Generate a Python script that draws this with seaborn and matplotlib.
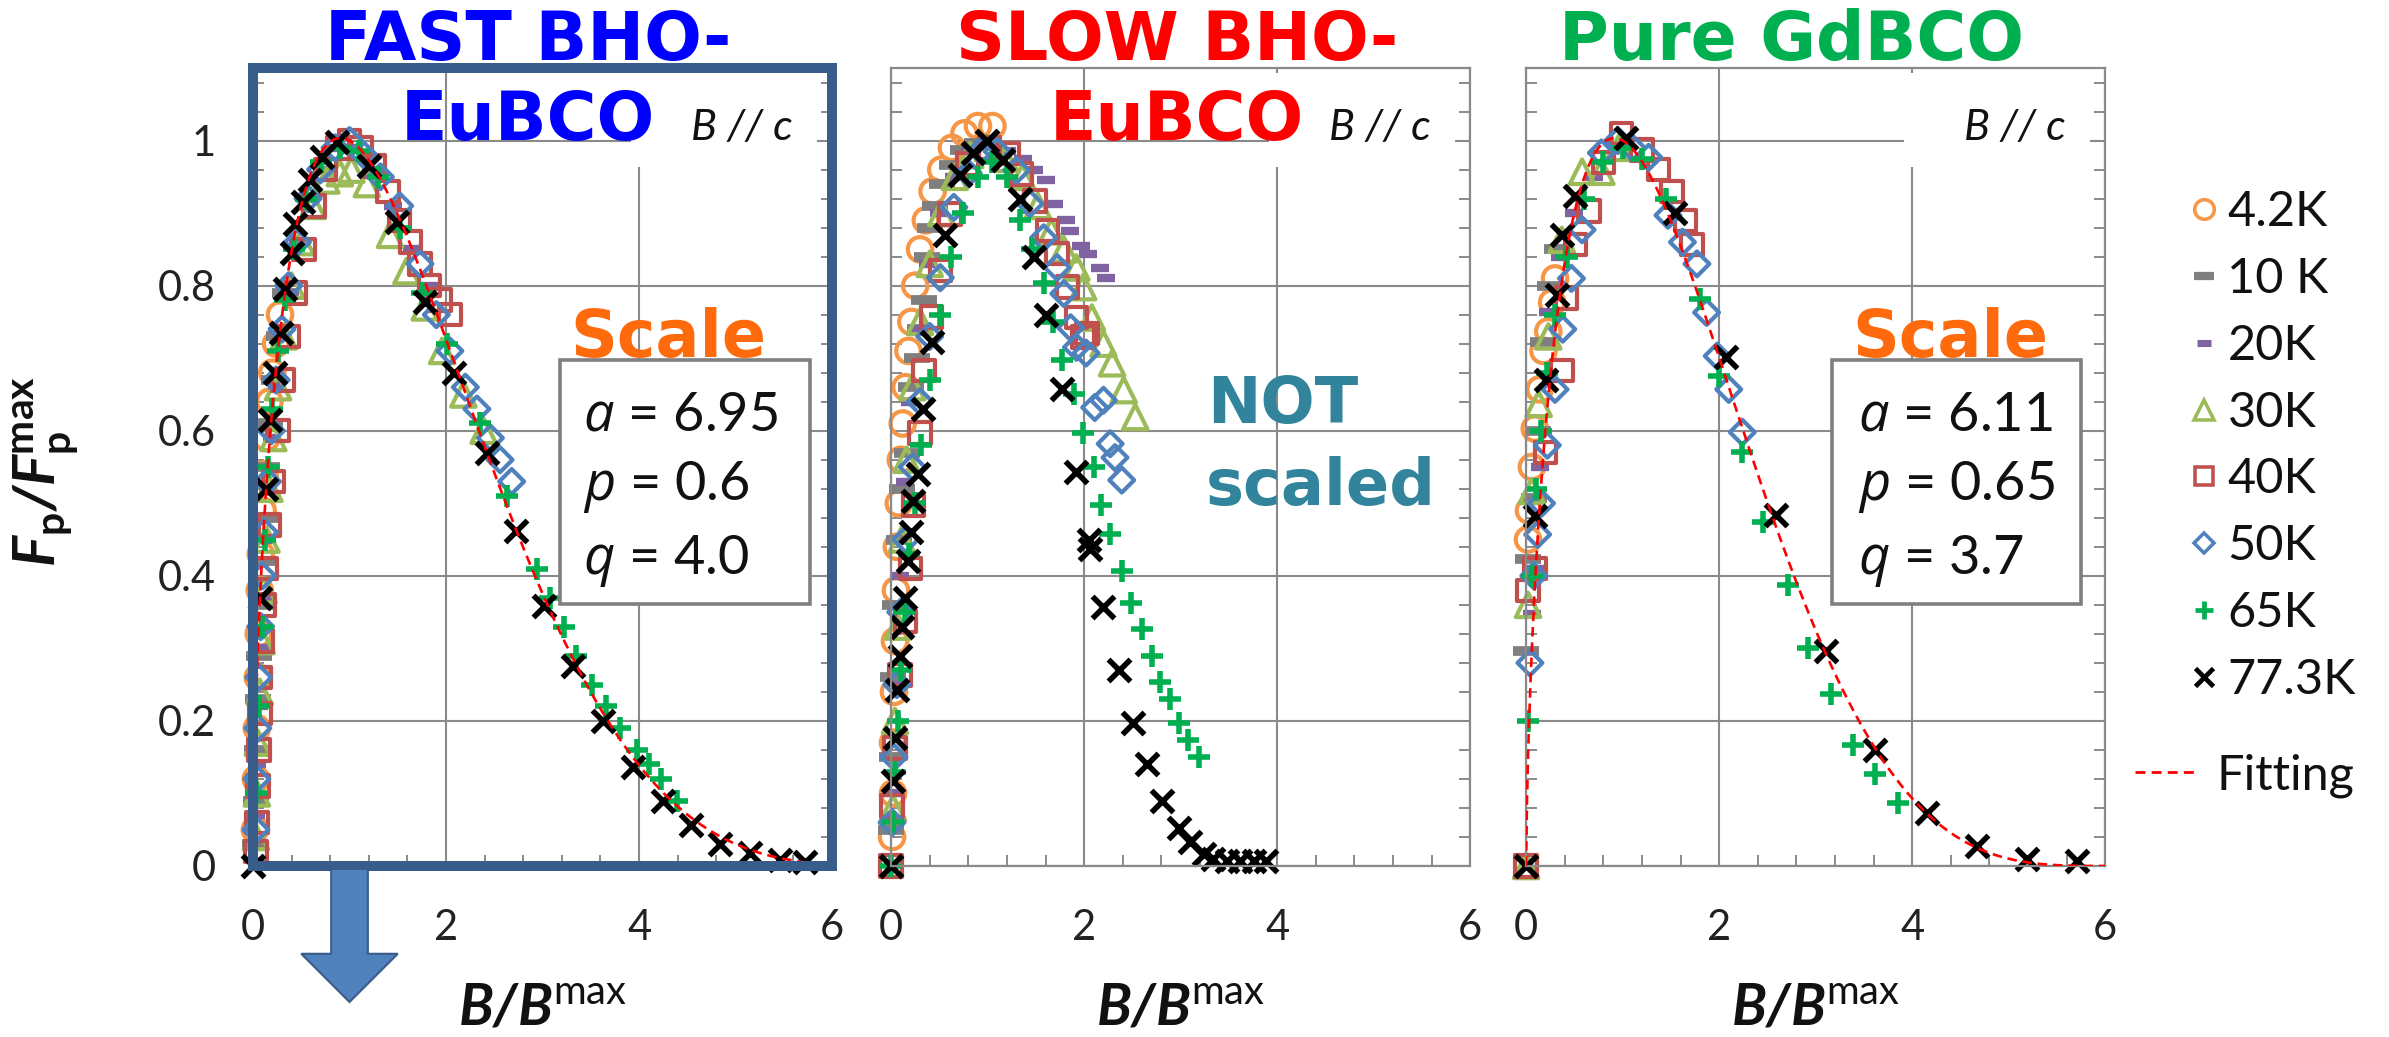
import numpy as np
import pandas as pd
import matplotlib
matplotlib.use("Agg")
import matplotlib.pyplot as plt
import seaborn as sns
from matplotlib.lines import Line2D
from matplotlib.markers import MarkerStyle
from matplotlib.patches import Rectangle, Polygon
from matplotlib.ticker import FixedLocator, MultipleLocator

# ---------------------------------------------------------------- data ----
temps = ["4.2K", "10 K", "20K", "30K", "40K", "50K", "65K", "77.3K"]
x_ticks = [0, 2, 4, 6]
x_tick_labels = ["0", "2", "4", "6"]
y_ticks = [0, 0.2, 0.4, 0.6, 0.8, 1.0]
y_tick_labels = ["0", "0.2", "0.4", "0.6", "0.8", "1"]

# FAST BHO-EuBCO, scaled with the fitted B_max
fast_4K_x = [0.02, 0.03, 0.04, 0.05, 0.06, 0.07, 0.08, 0.10, 0.12, 0.14, 0.17, 0.20, 0.24, 0.28]
fast_4K_y = [0.05, 0.12, 0.19, 0.26, 0.32, 0.38, 0.43, 0.49, 0.54, 0.59, 0.64, 0.68, 0.72, 0.76]
fast_10K_x = [0.02, 0.03, 0.04, 0.05, 0.06, 0.08, 0.10, 0.12, 0.15, 0.18, 0.22, 0.27, 0.33]
fast_10K_y = [0.03, 0.09, 0.16, 0.23, 0.29, 0.36, 0.42, 0.48, 0.55, 0.61, 0.67, 0.73, 0.79]
fast_20K_x = [0.03, 0.04, 0.06, 0.08, 0.10, 0.13, 0.16, 0.20, 0.25, 0.31, 0.38, 0.47, 0.58, 0.72, 0.88, 1.05, 1.25, 1.45, 1.65, 1.83]
fast_20K_y = [0.07, 0.14, 0.22, 0.30, 0.37, 0.45, 0.52, 0.59, 0.66, 0.73, 0.79, 0.86, 0.92, 0.96, 0.99, 0.99, 0.96, 0.91, 0.85, 0.80]
fast_30K_x = [0.03, 0.04, 0.05, 0.07, 0.09, 0.11, 0.14, 0.17, 0.21, 0.26, 0.32, 0.40, 0.50, 0.62, 0.76, 0.90, 1.02, 1.18, 1.42, 1.59, 1.78, 1.96, 2.18, 2.39]
fast_30K_y = [0.04, 0.10, 0.17, 0.24, 0.31, 0.38, 0.45, 0.52, 0.59, 0.66, 0.73, 0.80, 0.86, 0.91, 0.945, 0.955, 0.96, 0.94, 0.87, 0.82, 0.77, 0.71, 0.65, 0.60]
fast_40K_x = [0.03, 0.04, 0.05, 0.06, 0.07, 0.08, 0.10, 0.12, 0.14, 0.17, 0.21, 0.26, 0.31, 0.37, 0.44, 0.53, 0.63, 0.75, 0.88, 1.00, 1.12, 1.26, 1.40, 1.52, 1.63, 1.73, 1.83, 1.94, 2.04]
fast_40K_y = [0.02, 0.06, 0.11, 0.16, 0.21, 0.26, 0.31, 0.36, 0.41, 0.47, 0.53, 0.60, 0.67, 0.73, 0.79, 0.85, 0.91, 0.96, 0.99, 1.00, 0.99, 0.965, 0.93, 0.89, 0.86, 0.83, 0.80, 0.78, 0.76]
fast_50K_x = [0.03, 0.04, 0.05, 0.06, 0.08, 0.10, 0.12, 0.15, 0.19, 0.24, 0.30, 0.37, 0.46, 0.57, 0.70, 0.85, 1.00, 1.15, 1.32, 1.52, 1.73, 1.90, 2.04, 2.20, 2.32, 2.46, 2.56, 2.68]
fast_50K_y = [0.05, 0.12, 0.19, 0.26, 0.33, 0.40, 0.46, 0.53, 0.60, 0.67, 0.74, 0.80, 0.86, 0.92, 0.96, 0.99, 1.00, 0.98, 0.95, 0.91, 0.83, 0.76, 0.71, 0.66, 0.63, 0.59, 0.56, 0.53]
fast_65K_x = [0.03, 0.06, 0.09, 0.12, 0.16, 0.20, 0.26, 0.33, 0.42, 0.55, 0.70, 0.90, 1.10, 1.30, 1.52, 1.75, 2.01, 2.35, 2.63, 2.94, 3.08, 3.22, 3.35, 3.51, 3.66, 3.80, 3.98, 4.10, 4.23, 4.39]
fast_65K_y = [0.10, 0.22, 0.33, 0.45, 0.55, 0.63, 0.71, 0.78, 0.85, 0.92, 0.97, 0.99, 0.985, 0.95, 0.88, 0.79, 0.72, 0.61, 0.51, 0.41, 0.37, 0.33, 0.29, 0.25, 0.22, 0.19, 0.16, 0.14, 0.12, 0.09]
fast_77K_x = [0.0, 0.07, 0.13, 0.18, 0.23, 0.29, 0.33, 0.40, 0.44, 0.52, 0.59, 0.71, 0.87, 1.20, 1.49, 1.78, 2.08, 2.42, 2.72, 3.01, 3.32, 3.63, 3.94, 4.25, 4.54, 4.84, 5.15, 5.46, 5.72]
fast_77K_y = [0.0, 0.37, 0.52, 0.615, 0.68, 0.735, 0.795, 0.845, 0.885, 0.915, 0.945, 0.978, 0.998, 0.965, 0.888, 0.778, 0.679, 0.569, 0.462, 0.359, 0.276, 0.200, 0.136, 0.090, 0.057, 0.030, 0.018, 0.008, 0.006]

# SLOW BHO-EuBCO, raw normalisation (curves do not collapse)
slow_4K_x = [0.01, 0.02, 0.02, 0.03, 0.04, 0.05, 0.06, 0.08, 0.10, 0.12, 0.15, 0.18, 0.21, 0.25, 0.30, 0.36, 0.43, 0.52, 0.63, 0.76, 0.90, 1.05]
slow_4K_y = [0.04, 0.10, 0.17, 0.24, 0.31, 0.38, 0.44, 0.50, 0.56, 0.61, 0.66, 0.71, 0.75, 0.80, 0.85, 0.89, 0.93, 0.96, 0.99, 1.01, 1.02, 1.02]
slow_10K_x = [0.0, 0.01, 0.02, 0.04, 0.08, 0.11, 0.16, 0.21, 0.27, 0.30, 0.34, 0.37, 0.40, 0.46, 0.53, 0.63, 0.75, 0.89, 1.03]
slow_10K_y = [0.05, 0.15, 0.26, 0.36, 0.45, 0.52, 0.57, 0.66, 0.70, 0.74, 0.78, 0.84, 0.88, 0.91, 0.94, 0.967, 0.987, 0.997, 0.993]
slow_20K_x = [0.02, 0.05, 0.09, 0.14, 0.20, 0.28, 0.38, 0.50, 0.65, 0.82, 1.00, 1.20, 1.37, 1.48, 1.60, 1.69, 1.81, 1.85, 1.97, 2.04, 2.16, 2.23]
slow_20K_y = [0.10, 0.25, 0.40, 0.53, 0.64, 0.74, 0.83, 0.90, 0.95, 0.985, 0.995, 0.985, 0.975, 0.959, 0.945, 0.913, 0.89, 0.876, 0.855, 0.844, 0.825, 0.811]
slow_30K_x = [0.02, 0.04, 0.07, 0.11, 0.16, 0.22, 0.30, 0.40, 0.52, 0.66, 0.82, 1.00, 1.18, 1.36, 1.52, 1.66, 1.79, 1.92, 1.99, 2.08, 2.20, 2.29, 2.41, 2.53]
slow_30K_y = [0.08, 0.20, 0.33, 0.45, 0.56, 0.66, 0.75, 0.83, 0.90, 0.95, 0.98, 0.99, 0.975, 0.95, 0.91, 0.875, 0.85, 0.825, 0.798, 0.756, 0.72, 0.693, 0.656, 0.619]
slow_40K_x = [0.0, 0.01, 0.04, 0.09, 0.15, 0.20, 0.23, 0.30, 0.34, 0.42, 0.51, 0.61, 0.79, 1.02, 1.21, 1.35, 1.49, 1.62, 1.72, 1.83, 1.92, 1.99, 2.03]
slow_40K_y = [0.0, 0.083, 0.163, 0.263, 0.337, 0.41, 0.497, 0.597, 0.683, 0.757, 0.821, 0.899, 0.968, 0.99, 0.982, 0.954, 0.917, 0.876, 0.844, 0.798, 0.756, 0.729, 0.734]
slow_50K_x = [0.01, 0.03, 0.06, 0.10, 0.15, 0.22, 0.30, 0.40, 0.51, 0.65, 0.80, 0.93, 1.10, 1.30, 1.44, 1.58, 1.72, 1.79, 1.86, 1.92, 2.02, 2.11, 2.20, 2.27, 2.32, 2.39]
slow_50K_y = [0.06, 0.15, 0.25, 0.35, 0.45, 0.55, 0.64, 0.73, 0.811, 0.908, 0.955, 0.986, 0.985, 0.959, 0.913, 0.866, 0.825, 0.789, 0.742, 0.715, 0.707, 0.632, 0.642, 0.582, 0.563, 0.532]
slow_65K_x = [0.0, 0.02, 0.04, 0.07, 0.10, 0.14, 0.19, 0.25, 0.31, 0.40, 0.51, 0.62, 0.75, 0.90, 1.05, 1.20, 1.34, 1.46, 1.58, 1.68, 1.77, 1.89, 1.99, 2.10, 2.17, 2.27, 2.39, 2.49, 2.60, 2.70, 2.79, 2.89, 2.98, 3.08, 3.19]
slow_65K_y = [0.0, 0.06, 0.13, 0.20, 0.27, 0.35, 0.43, 0.50, 0.58, 0.67, 0.76, 0.84, 0.90, 0.95, 0.97, 0.95, 0.89, 0.85, 0.803, 0.75, 0.697, 0.65, 0.597, 0.55, 0.497, 0.457, 0.407, 0.363, 0.327, 0.29, 0.253, 0.23, 0.197, 0.173, 0.15]
slow_77K_x = [0.0, 0.02, 0.04, 0.06, 0.09, 0.11, 0.14, 0.18, 0.21, 0.23, 0.28, 0.33, 0.42, 0.56, 0.71, 0.85, 0.99, 1.16, 1.34, 1.48, 1.61, 1.77, 1.92, 2.05, 2.06, 2.20, 2.36, 2.51, 2.65, 2.81, 2.98, 3.10, 3.24, 3.34, 3.48, 3.62, 3.76, 3.88]
slow_77K_y = [0.0, 0.117, 0.177, 0.243, 0.29, 0.33, 0.37, 0.42, 0.46, 0.503, 0.54, 0.63, 0.723, 0.87, 0.953, 0.983, 1.0, 0.973, 0.92, 0.84, 0.76, 0.657, 0.543, 0.45, 0.437, 0.357, 0.27, 0.197, 0.14, 0.09, 0.053, 0.033, 0.017, 0.01, 0.007, 0.007, 0.007, 0.007]

# Pure GdBCO, scaled with the fitted B_max
pure_4K_x = [0.02, 0.03, 0.06, 0.09, 0.14, 0.18, 0.23, 0.27, 0.30]
pure_4K_y = [0.45, 0.49, 0.55, 0.603, 0.657, 0.71, 0.737, 0.777, 0.81]
pure_10K_x = [0.0, 0.02, 0.08, 0.12, 0.18, 0.25, 0.32]
pure_10K_y = [0.297, 0.423, 0.507, 0.60, 0.723, 0.80, 0.85]
pure_20K_x = [0.06, 0.09, 0.14, 0.23, 0.35, 0.50, 0.70]
pure_20K_y = [0.347, 0.41, 0.55, 0.763, 0.84, 0.90, 0.95]
pure_30K_x = [0.0, 0.02, 0.06, 0.13, 0.23, 0.37, 0.58, 0.78, 0.96]
pure_30K_y = [0.0, 0.36, 0.517, 0.637, 0.73, 0.863, 0.957, 0.957, 0.99]
pure_40K_x = [0.0, 0.02, 0.09, 0.20, 0.37, 0.42, 0.51, 0.65, 0.80, 0.99, 1.20, 1.37, 1.51, 1.65, 1.72]
pure_40K_y = [0.0, 0.38, 0.41, 0.57, 0.683, 0.783, 0.857, 0.903, 0.97, 1.01, 0.987, 0.96, 0.93, 0.89, 0.857]
pure_50K_x = [0.04, 0.08, 0.12, 0.16, 0.22, 0.30, 0.38, 0.47, 0.58, 0.78, 0.95, 1.10, 1.27, 1.47, 1.62, 1.77, 1.87, 1.98, 2.10, 2.24]
pure_50K_y = [0.28, 0.40, 0.457, 0.50, 0.58, 0.657, 0.74, 0.81, 0.877, 0.983, 1.0, 0.99, 0.977, 0.897, 0.86, 0.83, 0.763, 0.703, 0.657, 0.598]
pure_65K_x = [0.02, 0.06, 0.10, 0.15, 0.22, 0.30, 0.42, 0.60, 0.80, 1.00, 1.20, 1.45, 1.80, 2.00, 2.24, 2.45, 2.71, 2.92, 3.16, 3.39, 3.61, 3.85]
pure_65K_y = [0.20, 0.40, 0.52, 0.60, 0.68, 0.76, 0.84, 0.92, 0.97, 0.99, 0.975, 0.92, 0.782, 0.675, 0.571, 0.474, 0.387, 0.30, 0.237, 0.167, 0.127, 0.087]
pure_77K_x = [0.0, 0.09, 0.21, 0.32, 0.37, 0.51, 1.04, 1.54, 2.07, 2.59, 3.11, 3.61, 4.15, 4.67, 5.19, 5.71]
pure_77K_y = [0.0, 0.483, 0.67, 0.787, 0.87, 0.923, 1.003, 0.90, 0.701, 0.484, 0.297, 0.16, 0.073, 0.027, 0.01, 0.007]

# Fit parameters (a, p, q) printed in the boxes
fast_fit = [6.95, 0.6, 4.0]
pure_fit = [6.11, 0.65, 3.7]

# ------------------------------------------------------------- styling ----
series_styles = [
    dict(m="o", open=True, color="#F79646", s=310, lw=3.0),
    dict(m="_", open=False, color="#7F7F7F", s=330, lw=7.0),
    dict(m="_", open=False, color="#8064A2", s=170, lw=6.0),
    dict(m="^", open=True, color="#9BBB59", s=310, lw=3.0),
    dict(m="s", open=True, color="#C0504D", s=240, lw=3.0),
    dict(m="D", open=True, color="#4F81BD", s=160, lw=3.0),
    dict(m="+", open=False, color="#00B050", s=250, lw=4.0),
    dict(m="x", open=False, color="#000000", s=250, lw=4.0),
]
GRID = "#8A8A8A"
FRAME_BLUE = "#385D8A"
ARROW_BLUE = "#4F81BD"
FIT_RED = "#FF0000"
TITLE_FONT = "DejaVu Sans"

sns.set_theme(style="white")
plt.rcParams["font.family"] = ["Lato", "DejaVu Sans"]
plt.rcParams["mathtext.fontset"] = "custom"
plt.rcParams["mathtext.rm"] = "Lato"
plt.rcParams["mathtext.it"] = "Open Sans:italic"
plt.rcParams["mathtext.bf"] = "Lato:italic:bold"
plt.rcParams["mathtext.sf"] = "Lato:bold"

panels = [
    dict(name="fast",
         series=[(fast_4K_x, fast_4K_y), (fast_10K_x, fast_10K_y), (fast_20K_x, fast_20K_y),
                 (fast_30K_x, fast_30K_y), (fast_40K_x, fast_40K_y), (fast_50K_x, fast_50K_y),
                 (fast_65K_x, fast_65K_y), (fast_77K_x, fast_77K_y)],
         fit=fast_fit, title=["FAST BHO-", "EuBCO"], title_color="#0000FF", title_x=0.475),
    dict(name="slow",
         series=[(slow_4K_x, slow_4K_y), (slow_10K_x, slow_10K_y), (slow_20K_x, slow_20K_y),
                 (slow_30K_x, slow_30K_y), (slow_40K_x, slow_40K_y), (slow_50K_x, slow_50K_y),
                 (slow_65K_x, slow_65K_y), (slow_77K_x, slow_77K_y)],
         fit=None, title=["SLOW BHO-", "EuBCO"], title_color="#FF0000", title_x=0.494),
    dict(name="pure",
         series=[(pure_4K_x, pure_4K_y), (pure_10K_x, pure_10K_y), (pure_20K_x, pure_20K_y),
                 (pure_30K_x, pure_30K_y), (pure_40K_x, pure_40K_y), (pure_50K_x, pure_50K_y),
                 (pure_65K_x, pure_65K_y), (pure_77K_x, pure_77K_y)],
         fit=pure_fit, title=["Pure GdBCO"], title_color="#00B050", title_x=0.458),
]

fig = plt.figure(figsize=(23.89, 10.37), dpi=100)
fig.patch.set_facecolor("white")
lefts = [0.1059, 0.3730, 0.6388]
ax_w, ax_b, ax_h = 0.2424, 0.1649, 0.7695


def scaling_curve(b, a, p, q):
    # F_p/F_p^max = b^p (1 - b/a)^q, normalised to 1 at b = 1
    return (b ** p) * (1 - b / a) ** q / (1 - 1 / a) ** q


for i, (panel, left) in enumerate(zip(panels, lefts)):
    ax = fig.add_axes([left, ax_b, ax_w, ax_h])
    ax.set_facecolor("white")

    for (xs, ys), st in zip(panel["series"], series_styles):
        mk = MarkerStyle(st["m"], fillstyle="none") if st["open"] else st["m"]
        sns.scatterplot(x=xs, y=ys, ax=ax, marker=mk, color=st["color"], s=st["s"],
                        linewidth=st["lw"], clip_on=False, legend=False, zorder=2)

    if panel["fit"] is not None:
        a, p, q = panel["fit"]
        bb = np.linspace(0, 6, 600)
        sns.lineplot(x=bb, y=scaling_curve(bb, a, p, q), ax=ax, color=FIT_RED, lw=1.9,
                     linestyle=(0, (3.6, 2.2)), legend=False, zorder=3)

    ax.set_xlim(0, 6)
    ax.set_ylim(0, 1.1)
    ax.xaxis.set_major_locator(FixedLocator(x_ticks))
    ax.yaxis.set_major_locator(FixedLocator(y_ticks))
    ax.xaxis.set_minor_locator(MultipleLocator(0.4))
    ax.yaxis.set_minor_locator(MultipleLocator(0.04))
    ax.set_xticklabels(x_tick_labels)
    if i == 0:
        ax.set_yticklabels(y_tick_labels)
    else:
        ax.set_yticklabels([])
    ax.tick_params(which="major", length=0, labelsize=30, colors="#222222")
    ax.tick_params(axis="x", which="major", pad=31)
    ax.tick_params(axis="y", which="major", pad=27)
    ax.tick_params(which="minor", direction="in", length=8, width=1.4, color=GRID,
                   left=True, right=True, bottom=True, top=False)
    ax.grid(True, which="major", color=GRID, lw=1.5)
    ax.set_axisbelow(True)
    for sp in ax.spines.values():
        sp.set_color(GRID)
        sp.set_linewidth(1.6)
    ax.set_xlabel("")
    ax.set_ylabel("")

    # Sample title, two lines centred over the panel
    tbase = [1.010, 0.910]
    for line, yb in zip(panel["title"], tbase):
        ax.text(panel["title_x"], yb, line, transform=ax.transAxes, ha="center", va="baseline",
                fontsize=49, fontweight="bold", family=TITLE_FONT, color=panel["title_color"],
                clip_on=False, zorder=7)

    # Field orientation tag on a white patch
    ax.add_patch(Rectangle((0.652, 0.876), 0.322, 0.118, transform=ax.transAxes,
                           facecolor="white", edgecolor="none", zorder=1.5))
    ax.text(0.757, 0.910, "B // c", transform=ax.transAxes, ha="left", va="baseline",
            fontsize=31, fontstyle="italic", color="#111111", zorder=7)

    ax.text(0.5, -0.199, r"$\mathbf{B/B}^{\mathrm{max}}$", transform=ax.transAxes,
            ha="center", va="baseline", fontsize=41, color="#111111", clip_on=False)

    if panel["fit"] is not None:
        a, p, q = panel["fit"]
        bx = 0.530 if i == 0 else 0.528
        ax.text(0.717 if i == 0 else 0.732, 0.638, "Scale", transform=ax.transAxes,
                ha="center", va="baseline", fontsize=47, fontweight="bold",
                family=TITLE_FONT, color="#FF6A0D", zorder=7)
        ax.add_patch(Rectangle((bx, 0.328), 0.431, 0.306, transform=ax.transAxes,
                               facecolor="white", edgecolor="#7F7F7F", lw=2.6, zorder=5))
        tx = 0.570 if i == 0 else 0.574
        for lab, val, yb in zip(["a", "p", "q"], [a, p, q], [0.546, 0.459, 0.366]):
            ax.text(tx, yb, f"${lab}$ = {val}", transform=ax.transAxes, ha="left",
                    va="baseline", fontsize=39, color="#111111", zorder=6)

    if i == 0:
        ax.text(-0.3575, 0.494, r"$\mathbf{F}_{\mathsf{p}}\mathbf{/F}_{\mathsf{p}}^{\mathsf{max}}$",
                transform=ax.transAxes, rotation=90, ha="center", va="center",
                fontsize=42, color="#111111", clip_on=False)
        # blue frame round the FAST panel and the arrow pointing at B/Bmax = 1
        ax.add_patch(Rectangle((0, 0), 1, 1, transform=ax.transAxes, fill=False,
                               edgecolor=FRAME_BLUE, lw=7.2, clip_on=False, zorder=8))
        arrow = Polygon([(0.81, -0.004), (1.19, -0.004), (1.19, -0.121), (1.50, -0.121),
                         (1.0, -0.1875), (0.50, -0.121), (0.81, -0.121)], closed=True,
                        transform=ax.transData, facecolor=ARROW_BLUE, edgecolor=FRAME_BLUE,
                        lw=1.5, clip_on=False, zorder=8)
        ax.add_patch(arrow)

    if panel["name"] == "slow":
        ax.text(0.546, 0.555, "NOT", transform=ax.transAxes, ha="left", va="baseline",
                fontsize=46, fontweight="bold", family=TITLE_FONT, color="#31849B", zorder=7)
        ax.text(0.543, 0.452, "scaled", transform=ax.transAxes, ha="left", va="baseline",
                fontsize=46, fontweight="bold", family=TITLE_FONT, color="#31849B", zorder=7)

# Legend: temperatures, then the fitting curve a little further down
handles = []
for st in series_styles:
    handles.append(Line2D([0], [0], linestyle="", marker=st["m"], color=st["color"],
                          markersize=np.sqrt(st["s"]) * 0.8, markeredgewidth=st["lw"] * 0.85,
                          fillstyle="none" if st["open"] else "full"))
leg1 = fig.legend(handles, temps, loc="upper left", bbox_to_anchor=(2191 / 2389, 1 - 190 / 1037),
                  frameon=False, fontsize=35, handlelength=0.55, handletextpad=0.2,
                  labelspacing=0.47, borderpad=0, borderaxespad=0)
fit_handle = Line2D([0], [0], color=FIT_RED, lw=2.0, linestyle=(0, (3.6, 2.2)))
leg2 = fig.legend([fit_handle], ["Fitting"], loc="upper left",
                  bbox_to_anchor=(2135 / 2389, 1 - 753 / 1037), frameon=False, fontsize=35,
                  handlelength=1.32, handletextpad=0.35, borderpad=0, borderaxespad=0)
for lg in (leg1, leg2):
    for t in lg.get_texts():
        t.set_color("#111111")

fig.savefig("out.png", dpi=100, facecolor="white")
